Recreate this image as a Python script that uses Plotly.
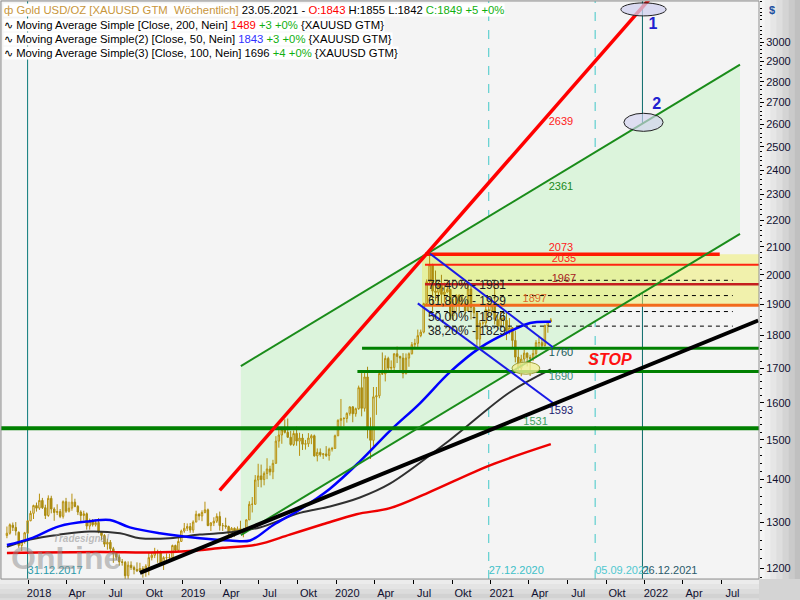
import math
import pandas as pd
import plotly.graph_objects as go

FONT = "Liberation Sans"

# ---------------- weekly OHLC (bars dated on week-ending Sunday) ----------------
open_ = [1270, 1275, 1293, 1288, 1277, 1248, 1256, 1275,
         1303, 1320, 1338, 1332, 1350, 1333, 1315, 1355, 1330, 1322, 1324, 1313, 1347, 1325, 1332, 1346, 1336,
         1323, 1315, 1319, 1291, 1302, 1294, 1299, 1278, 1270, 1251, 1255, 1241, 1231, 1223, 1213, 1212, 1184,
         1206, 1201, 1197, 1194, 1199, 1192, 1204, 1222, 1227, 1234, 1233, 1210, 1222, 1222, 1222, 1248, 1238, 1257,
         1280, 1286, 1290, 1282, 1300, 1318, 1314, 1322, 1328, 1292, 1298, 1302, 1313, 1292, 1292, 1290, 1275,
         1286, 1280, 1285, 1277, 1283, 1305, 1341, 1341, 1399, 1409, 1400, 1415, 1426, 1419, 1440, 1497, 1513,
         1527, 1520, 1507, 1488, 1517, 1497, 1505, 1489, 1490, 1505, 1511, 1459, 1468, 1462, 1464, 1460, 1476, 1478,
         1511, 1552, 1557, 1557, 1571, 1589, 1570, 1584, 1643, 1585, 1674, 1530, 1499, 1617, 1620, 1684, 1683,
         1729, 1700, 1702, 1743, 1735, 1730, 1684, 1730, 1743, 1771, 1775, 1799, 1810, 1902, 1976, 2035, 1944,
         1940, 1964, 1933, 1941, 1950, 1862, 1900, 1930, 1899, 1902, 1878, 1951, 1889, 1872, 1788, 1839, 1839, 1882,
         1878, 1895, 1850, 1828, 1856, 1848, 1814, 1824, 1784, 1733, 1700, 1727, 1745, 1732, 1729, 1744, 1777,
         1777, 1768, 1831, 1843]
high = [1290, 1297, 1299, 1300, 1279, 1260, 1278, 1304,
        1326, 1340, 1345, 1366, 1356, 1340, 1362, 1361, 1334, 1341, 1330, 1350, 1356, 1347, 1366, 1354, 1339,
        1327, 1326, 1322, 1308, 1307, 1306, 1309, 1280, 1273, 1263, 1260, 1245, 1235, 1229, 1219, 1215, 1214,
        1214, 1205, 1212, 1211, 1204, 1208, 1233, 1234, 1243, 1239, 1237, 1225, 1231, 1230, 1250, 1250, 1266, 1283,
        1298, 1297, 1298, 1304, 1326, 1320, 1327, 1347, 1331, 1300, 1311, 1320, 1324, 1298, 1310, 1292, 1289,
        1288, 1290, 1303, 1287, 1306, 1348, 1358, 1411, 1439, 1437, 1420, 1453, 1434, 1449, 1510, 1535, 1527,
        1555, 1557, 1524, 1525, 1535, 1519, 1516, 1500, 1518, 1515, 1514, 1478, 1478, 1466, 1484, 1480, 1482, 1514,
        1555, 1611, 1561, 1574, 1590, 1591, 1587, 1649, 1689, 1692, 1704, 1560, 1645, 1645, 1690, 1747, 1738,
        1734, 1723, 1744, 1765, 1737, 1745, 1744, 1747, 1779, 1789, 1818, 1818, 1905, 1984, 2075, 2039, 2015,
        1976, 2000, 1973, 1973, 1950, 1917, 1933, 1933, 1933, 1910, 1965, 1966, 1898, 1875, 1848, 1875, 1896, 1907,
        1900, 1959, 1864, 1875, 1875, 1875, 1855, 1826, 1815, 1760, 1740, 1755, 1747, 1740, 1759, 1785, 1798,
        1790, 1834, 1846, 1855]
low = [1264, 1272, 1280, 1270, 1243, 1236, 1252, 1274,
       1302, 1307, 1324, 1328, 1330, 1307, 1312, 1320, 1303, 1316, 1309, 1308, 1321, 1322, 1326, 1334, 1316,
       1302, 1304, 1283, 1283, 1290, 1290, 1275, 1260, 1245, 1239, 1236, 1211, 1217, 1205, 1205, 1160, 1172,
       1196, 1187, 1192, 1193, 1180, 1182, 1185, 1216, 1221, 1211, 1206, 1196, 1217, 1212, 1221, 1233, 1236, 1256,
       1276, 1280, 1276, 1276, 1300, 1304, 1302, 1320, 1291, 1280, 1291, 1298, 1281, 1280, 1285, 1266, 1265,
       1267, 1277, 1275, 1266, 1278, 1305, 1322, 1340, 1382, 1381, 1386, 1401, 1410, 1401, 1440, 1480, 1490,
       1517, 1506, 1485, 1484, 1485, 1459, 1474, 1475, 1482, 1489, 1457, 1445, 1457, 1451, 1456, 1447, 1470, 1477,
       1510, 1535, 1536, 1546, 1565, 1547, 1562, 1581, 1563, 1576, 1504, 1451, 1484, 1567, 1613, 1680, 1661,
       1690, 1688, 1690, 1715, 1694, 1670, 1681, 1704, 1741, 1757, 1764, 1794, 1806, 1902, 1964, 1863, 1911,
       1910, 1902, 1906, 1939, 1848, 1849, 1873, 1871, 1891, 1860, 1877, 1850, 1853, 1764, 1765, 1823, 1825, 1855,
       1864, 1834, 1817, 1826, 1831, 1785, 1803, 1760, 1717, 1687, 1676, 1719, 1705, 1677, 1721, 1731, 1764,
       1756, 1765, 1808, 1842]
close = [1275, 1294, 1288, 1280, 1248, 1256, 1276, 1303,
         1320, 1338, 1332, 1350, 1333, 1315, 1355, 1330, 1322, 1324, 1313, 1347, 1325, 1332, 1346, 1336, 1323,
         1315, 1319, 1291, 1302, 1294, 1299, 1278, 1270, 1251, 1255, 1241, 1231, 1223, 1213, 1212, 1184, 1206,
         1201, 1197, 1194, 1199, 1192, 1204, 1222, 1227, 1234, 1233, 1210, 1222, 1222, 1222, 1248, 1238, 1257, 1280,
         1286, 1290, 1282, 1300, 1318, 1314, 1322, 1328, 1292, 1298, 1302, 1313, 1292, 1292, 1290, 1275, 1286,
         1280, 1285, 1277, 1283, 1305, 1341, 1341, 1399, 1409, 1400, 1415, 1426, 1419, 1440, 1497, 1513, 1527,
         1520, 1507, 1488, 1517, 1497, 1505, 1489, 1490, 1505, 1511, 1459, 1468, 1462, 1464, 1460, 1476, 1478, 1511,
         1552, 1557, 1557, 1571, 1589, 1570, 1584, 1643, 1585, 1674, 1530, 1499, 1617, 1620, 1684, 1683, 1729,
         1700, 1702, 1743, 1735, 1730, 1684, 1730, 1743, 1771, 1775, 1799, 1810, 1902, 1976, 2035, 1944, 1940,
         1964, 1933, 1941, 1950, 1862, 1900, 1930, 1899, 1902, 1878, 1951, 1889, 1872, 1788, 1839, 1839, 1882, 1878,
         1895, 1850, 1828, 1856, 1848, 1814, 1824, 1784, 1733, 1700, 1727, 1745, 1732, 1729, 1744, 1777, 1777,
         1768, 1831, 1843, 1849]
dates = pd.date_range(end="2021-05-23", periods=len(close), freq="W-SUN")

# ---------------- moving averages ----------------
ma200_dates = ["2017-11-12", "2018-06-20", "2018-10-17", "2019-01-19", "2019-04-07", "2019-06-27",
               "2019-09-13", "2019-11-30", "2020-02-18", "2020-05-07", "2020-08-05", "2020-12-30", "2021-05-23"]
ma200_vals = [1232, 1234, 1233, 1236, 1243, 1250, 1272, 1295, 1318, 1332, 1368, 1435, 1489]

ma50_dates = ["2017-11-12", "2018-01-06", "2018-03-17", "2018-05-27", "2018-07-14", "2018-08-30",
              "2018-11-09", "2019-02-12", "2019-04-24", "2019-06-11", "2019-08-04", "2019-10-07",
              "2019-12-17", "2020-02-26", "2020-05-07", "2020-07-17", "2020-09-26", "2020-12-06",
              "2021-02-15", "2021-04-04", "2021-05-23"]
ma50_vals = [1249, 1263, 1291, 1302, 1305, 1288, 1275, 1264, 1259, 1259, 1293, 1329, 1378, 1445, 1524,
             1599, 1688, 1761, 1812, 1839, 1843]

ma100_dates = ["2017-11-12", "2018-01-06", "2018-03-17", "2018-05-27", "2018-08-07", "2018-09-23",
               "2018-12-03", "2019-02-12", "2019-04-24", "2019-07-04", "2019-10-07", "2019-12-17",
               "2020-02-26", "2020-05-07", "2020-09-26", "2021-02-15", "2021-05-23"]
ma100_vals = [1245, 1261, 1272, 1279, 1275, 1264, 1264, 1272, 1277, 1288, 1321, 1336, 1357, 1390, 1500,
              1630, 1696]

# ---------------- drawn trend lines ----------------
red_trend_dates = ["2019-03-31", "2022-01-10"]
red_trend_vals = [1374, 3229]
chan_dates = ["2019-05-20", "2022-08-14"]
chan_upper_vals = [1706, 2884]
chan_lower_vals = [1271, 2148]
black_trend_dates = ["2018-09-23", "2022-09-26"]
black_trend_vals = [1190, 1847]
blue_upper_dates = ["2020-08-10", "2021-05-28"]
blue_upper_vals = [2075, 1763]
blue_lower_dates = ["2020-07-12", "2021-06-06"]
blue_lower_vals = [1903, 1592]

X_START, X_END = "2017-10-29", "2022-09-28"

# resistance levels (yellow zone)
res_levels = [2073, 2035, 1967, 1897]
res_colors = ["#ff1a00", "#ff2410", "#c41e1e", "#f26a1c"]
res_widths = [3.5, 2, 2.5, 3]
res_start = "2020-07-29"
res_ends = ["2022-06-27", X_END, X_END, X_END]
zone_dates = ["2020-07-22", X_END]

# fibonacci retracements
fib_levels = [1981, 1929, 1876, 1829]
fib_text = ["76,40% - 1981", "61,80% - 1929", "50,00% - 1876", "38,20% - 1829"]
fib_dates = ["2020-08-05", "2022-07-28"]

# support levels
sup_levels = [1760, 1690, 1531]
sup_starts = ["2020-03-02", "2020-02-20", X_START]
sup_widths = [3, 3, 4]

# price labels
lbl_text = ["2639", "2361", "2073", "2035", "1967", "1897", "1760", "1690", "1593", "1531"]
lbl_x = ["2021-06-16", "2021-06-16", "2021-06-16", "2021-06-23", "2021-06-23", "2021-04-15",
         "2021-06-16", "2021-06-16", "2021-06-16", "2021-04-17"]
lbl_y = [2608, 2329, 2073, 2035, 1967, 1897, 1760, 1690, 1593, 1531]
lbl_pos = ["middle center", "middle center", "top center", "top center", "top center", "top center",
           "bottom center", "bottom center", "bottom center", "top center"]
lbl_color = ["#ff2020", "#208a20", "#ff2020", "#ff2020", "#a82020", "#e06a2a",
             "#1a5a5a", "#3a8a7a", "#1a1a70", "#40a060"]

# vertical date markers
vline_dates = ["2017-12-31", "2020-12-27", "2021-09-05", "2021-12-26"]
vline_text = ["31.12.2017", "27.12.2020", "05.09.2021", "26.12.2021"]
vline_colors = ["#0a7a7a", "#40c8c8", "#40c8c8", "#0a6a6a"]
vline_text_colors = ["#2a9aaa", "#40c0c8", "#50c8d0", "#2a5a6a"]
vline_dash = ["solid", "dash", "dash", "solid"]
vline_label_price = 1193

# axes
y_ticks = list(range(1200, 3001, 100))
y_minor = [v for v in range(1180, 3221, 20) if v % 100 != 0]
x_ticks = ["2018-01-01", "2018-04-01", "2018-07-01", "2018-10-01", "2019-01-01", "2019-04-01",
           "2019-07-01", "2019-10-01", "2020-01-01", "2020-04-01", "2020-07-01", "2020-10-01",
           "2021-01-01", "2021-04-01", "2021-07-01", "2021-10-01", "2022-01-01", "2022-04-01", "2022-07-01"]
x_ticktext = ["2018", "Apr", "Jul", "Okt", "2019", "Apr", "Jul", "Okt", "2020", "Apr", "Jul", "Okt",
              "2021", "Apr", "Jul", "Okt", "2022", "Apr", "Jul"]
Y_RANGE = [1177.3, 3222.6]

fig = go.Figure()


def line(xs, ys, color, width, dash="solid", shape="linear"):
    fig.add_trace(go.Scatter(x=xs, y=ys, mode="lines", hoverinfo="skip",
                             line=dict(color=color, width=width, dash=dash, shape=shape)))


# candles
fig.add_trace(go.Candlestick(
    x=dates, open=open_, high=high, low=low, close=close, whiskerwidth=0,
    increasing=dict(line=dict(color="#b8900c", width=1), fillcolor="rgba(0,0,0,0)"),
    decreasing=dict(line=dict(color="#a88a10", width=1), fillcolor="#b8900c"),
    hoverinfo="skip"))

# moving averages
line(ma100_dates, ma100_vals, "#303030", 2, shape="spline")
line(ma200_dates, ma200_vals, "#ee0000", 2.5, shape="spline")
line(ma50_dates, ma50_vals, "#0000ff", 2.5, shape="spline")

# horizontal levels
for v, c, w, e in zip(res_levels, res_colors, res_widths, res_ends):
    line([res_start, e], [v, v], c, w)
for v in fib_levels:
    line(fib_dates, [v, v], "#000000", 1, dash="4px,4px")
for v, s, w in zip(sup_levels, sup_starts, sup_widths):
    line([s, X_END], [v, v], "#008000", w)

# trend lines
line(chan_dates, chan_upper_vals, "#1a8c1a", 2)
line(chan_dates, chan_lower_vals, "#1a8c1a", 2)
line(blue_upper_dates, blue_upper_vals, "#1a1ae6", 2)
line(blue_lower_dates, blue_lower_vals, "#1a1ae6", 2)
line(black_trend_dates, black_trend_vals, "#000000", 4)
line(red_trend_dates, red_trend_vals, "#ff0000", 3.5)

# texts
fig.add_trace(go.Scatter(x=lbl_x, y=lbl_y, mode="text", text=lbl_text, textposition=lbl_pos,
                         textfont=dict(family=FONT, size=11, color=lbl_color), hoverinfo="skip"))
fig.add_trace(go.Scatter(x=[fib_dates[0]] * 4, y=fib_levels, mode="text", text=fib_text,
                         textposition="bottom right",
                         textfont=dict(family=FONT, size=12, color="#202020"), hoverinfo="skip"))
fig.add_trace(go.Scatter(x=["2021-10-10"], y=[1721], mode="text", text=["<b><i>STOP</i></b>"],
                         textposition="middle center",
                         textfont=dict(family=FONT, size=16, color="#ff1010"), hoverinfo="skip"))
fig.add_trace(go.Scatter(x=["2022-01-20", "2022-01-29"], y=[3092, 2687], mode="text",
                         text=["<b>1</b>", "<b>2</b>"], textposition="middle center",
                         textfont=dict(family=FONT, size=16, color="#2020d0"), hoverinfo="skip"))
fig.add_trace(go.Scatter(x=vline_dates, y=[vline_label_price] * 4, mode="text", text=vline_text,
                         textposition="middle right",
                         textfont=dict(family=FONT, size=11, color=vline_text_colors), hoverinfo="skip"))

shapes = []
# channel fill and yellow resistance zone, drawn beneath the candles
chan_path = "M{0},{1} L{2},{3} L{2},{4} L{0},{5} Z".format(
    chan_dates[0], chan_upper_vals[0], chan_dates[1], chan_upper_vals[1], chan_lower_vals[1], chan_lower_vals[0])
shapes.append(dict(type="path", xref="x", yref="y", path=chan_path, fillcolor="#dcf4dc",
                   line=dict(width=0), layer="below"))
shapes.append(dict(type="rect", xref="x", yref="y", x0=zone_dates[0], x1=zone_dates[1],
                   y0=res_levels[-1], y1=res_levels[0], fillcolor="rgba(238,238,100,0.5)",
                   line=dict(width=0), layer="below"))
# backgrounds of axis areas (gradients)
right_cols = ["#f4f4f4", "#eeeeee", "#e6e6e6", "#dedede", "#d4d4d4", "#cacaca", "#c0c0c0"]
x0p, x1p = 1.0, 1.0545
for i, c in enumerate(right_cols):
    a = x0p + (x1p - x0p) * i / len(right_cols)
    b = x0p + (x1p - x0p) * (i + 1) / len(right_cols)
    shapes.append(dict(type="rect", xref="paper", yref="paper", x0=a, x1=b, y0=0, y1=1.01,
                       fillcolor=c, line=dict(width=0), layer="below"))
bottom_cols = ["#ececec", "#e4e4e4", "#dcdcdc", "#d2d2d2"]
for i, c in enumerate(bottom_cols):
    a = -0.0015 - 0.032 * i / len(bottom_cols)
    b = -0.0015 - 0.032 * (i + 1) / len(bottom_cols)
    shapes.append(dict(type="rect", xref="paper", yref="paper", x0=-0.01, x1=1.0, y0=b, y1=a,
                       fillcolor=c, line=dict(width=0), layer="below"))
shapes.append(dict(type="rect", xref="paper", yref="paper", x0=1.0, x1=1.06, y0=-0.04, y1=0,
                   fillcolor="#d4d4d4", line=dict(width=0), layer="below"))
# vertical date lines
for d, c, ds in zip(vline_dates, vline_colors, vline_dash):
    shapes.append(dict(type="line", xref="x", yref="paper", x0=d, x1=d, y0=0, y1=1,
                       line=dict(color=c, width=1, dash=ds), layer="below"))
# ellipses
shapes.append(dict(type="circle", xref="x", yref="y", x0="2021-11-05", x1="2022-02-20", y0=3140, y1=3212,
                   fillcolor="rgba(210,210,240,0.75)", line=dict(color="#202020", width=1)))
shapes.append(dict(type="circle", xref="x", yref="y", x0="2021-11-12", x1="2022-02-13", y0=2568, y1=2650,
                   fillcolor="rgba(210,210,240,0.65)", line=dict(color="#202020", width=1)))
shapes.append(dict(type="circle", xref="x", yref="y", x0="2021-02-20", x1="2021-04-27", y0=1682, y1=1718,
                   fillcolor="rgba(240,240,150,0.8)", line=dict(color="#a0a040", width=1)))
# plot border
shapes.append(dict(type="rect", xref="paper", yref="paper", x0=0, x1=1, y0=0, y1=1,
                   line=dict(color="#909090", width=1)))


def ypaper(py):
    return 1 - (py - 1) / 581


hdr1 = ('<span style="color:#c8963c">\u0444 Gold USD/OZ [XAUUSD GTM  Wöchentlich]</span>'
        ' 23.05.2021 - <span style="color:#ff0000">O:%d</span> H:%d L:%d '
        '<span style="color:#10b010">C:%d +5 +0%%</span>' % (open_[-1], high[-1], low[-1], close[-1]))
hdr2 = ('\u223f Moving Average Simple [Close, 200, Nein] <span style="color:#ff0000">%d</span>'
        ' <span style="color:#10b010">+3 +0%%</span> {XAUUSD GTM}' % ma200_vals[-1])
hdr3 = ('\u223f Moving Average Simple(2) [Close, 50, Nein] <span style="color:#3030ff">%d</span>'
        ' <span style="color:#10b010">+3 +0%%</span> {XAUUSD GTM}' % ma50_vals[-1])
hdr4 = ('\u223f Moving Average Simple(3) [Close, 100, Nein] %d'
        ' <span style="color:#10b010">+4 +0%%</span> {XAUUSD GTM}' % ma100_vals[-1])

annotations = []
for txt, py in zip([hdr1, hdr2, hdr3, hdr4], [10, 25, 39, 53]):
    annotations.append(dict(xref="paper", yref="paper", x=0.003, y=ypaper(py), xanchor="left",
                            yanchor="middle", text=txt, showarrow=False, bgcolor="#ffffff", borderpad=0,
                            font=dict(family=FONT, size=11.3, color="#000000")))
annotations.append(dict(xref="paper", yref="paper", x=1.011, y=ypaper(10), xanchor="left", yanchor="middle",
                        text="<b>$</b>", showarrow=False, font=dict(family=FONT, size=11, color="#2050a0")))
annotations.append(dict(xref="paper", yref="paper", x=0.01, y=ypaper(561), xanchor="left", yanchor="middle",
                        text="<b>OnLine</b>", showarrow=False,
                        font=dict(family=FONT, size=32, color="rgba(140,140,140,0.5)")))
annotations.append(dict(xref="paper", yref="paper", x=0.066, y=ypaper(541), xanchor="left", yanchor="middle",
                        text="<b><i>Tradesignal</i></b>", showarrow=False,
                        font=dict(family=FONT, size=10, color="rgba(150,150,150,0.6)")))

fig.update_layout(
    width=800, height=600, margin=dict(l=1, r=41, t=1, b=18, pad=0),
    paper_bgcolor="#dcdcdc", plot_bgcolor="#f4f4f4", showlegend=False,
    shapes=shapes, annotations=annotations,
    xaxis=dict(type="date", range=[X_START, X_END], rangeslider=dict(visible=False),
               tickvals=x_ticks, ticktext=x_ticktext, ticks="outside", ticklen=4, tickcolor="#000000",
               ticklabelshift=11, showgrid=False, zeroline=False, showline=False,
               tickfont=dict(family=FONT, size=11, color="#101030")),
    yaxis=dict(type="log", side="right", range=[math.log10(Y_RANGE[0]), math.log10(Y_RANGE[1])],
               tickvals=y_ticks, ticktext=[str(v) for v in y_ticks], ticks="outside", ticklen=4,
               tickcolor="#000000", showgrid=False, zeroline=False, showline=False,
               minor=dict(tickvals=y_minor, ticks="outside", ticklen=2, tickcolor="#000000"),
               tickfont=dict(family=FONT, size=11, color="#101030")),
)

fig.write_html("out.html", config={"displayModeBar": False},
               post_script="document.body.style.margin='0';document.body.style.overflow='hidden';")
